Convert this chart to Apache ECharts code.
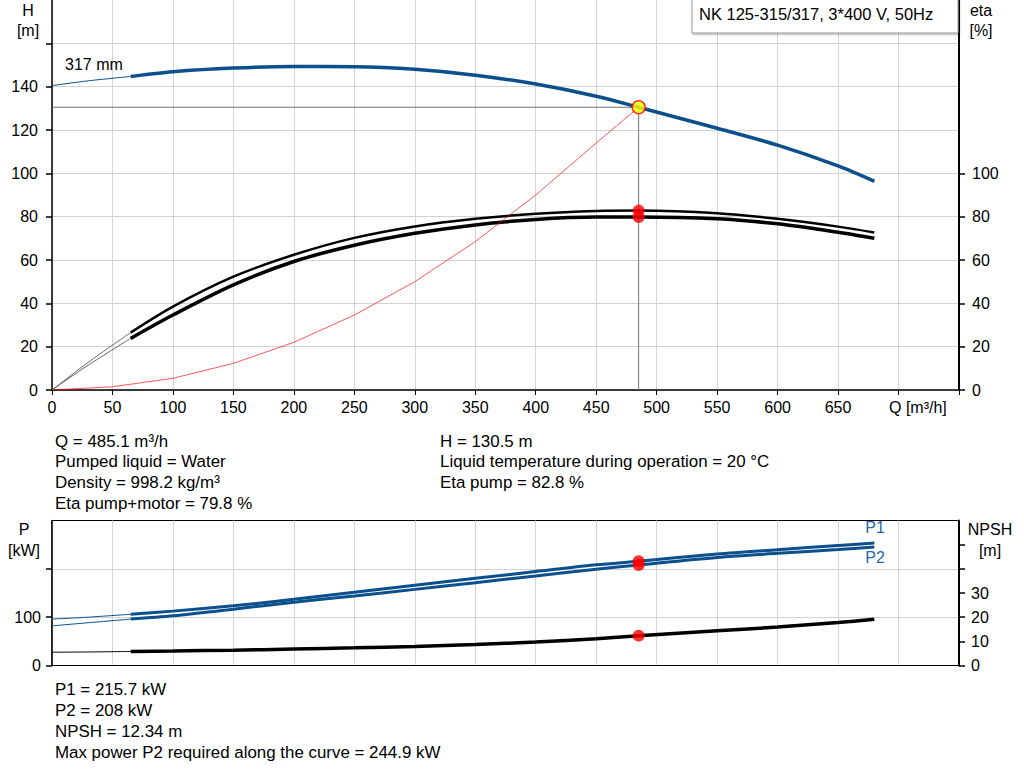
<!DOCTYPE html>
<html>
<head>
<meta charset="utf-8">
<script src="https://cdn.jsdelivr.net/npm/echarts@6/dist/echarts.min.js"></script>
<style>
html,body{margin:0;padding:0;background:#fff;}
#chart{width:1024px;height:781px;}
</style>
</head>
<body>
<div id="chart"></div>
<script>
// ---------- data ----------
const qCurve = [65,100,150,200,250,300,350,400,450,485.1,550,600,650,680];
const hHead = [144.7,146.9,148.6,149.3,149.2,148,145.3,141.2,135.6,130.5,120.8,113,103.4,96.3];
const etaPump = [26.5,38.5,52.3,62.4,70.2,75.5,79.0,81.3,82.6,82.8,81.6,79,75.4,72.7];
const etaPumpMotor = [23.8,34.6,48.5,59.3,66.8,72.3,76.2,78.7,79.8,79.8,79,76.7,72.8,70];
const p1 = [106,112.5,123.5,137,151.5,166,180.3,194.4,208.3,215.7,230.6,239.6,248.2,253.5];
const p2 = [96,102.8,116.5,131,144,157.5,171.3,185.2,199.2,208,223.5,232,239.8,245];
const npsh = [5.8,6.0,6.35,6.8,7.3,7.9,8.7,9.7,11.1,12.34,14.4,15.9,17.8,19.1];

const qLow = [0,30,65];
const hLow = [140.5,142.7,144.7];
const etaPumpLow = [0,12.8,26.5];
const etaPumpMotorLow = [0,11.5,23.8];
const p1Low = [96,100,106];
const p2Low = [82,88.5,96];
const npshLow = [5.5,5.6,5.8];

const qSystem = [0,50,100,150,200,250,300,350,400,450,485.1];
const hSystem = [0,1.5,5.4,12.3,22,34.6,50,68.5,90,114,130.5];

const dutyQ = 485.1, dutyH = 130.5, dutyEtaPump = 82.8, dutyEtaPumpMotor = 79.8;
const dutyP1 = 215.7, dutyP2 = 208, dutyNPSH = 12.34;

const qTicks = [0,50,100,150,200,250,300,350,400,450,500,550,600,650];
const hTicks = [0,20,40,60,80,100,120,140];
const hTickMarks = [0,20,40,60,80,100,120,140,160];
const etaTicks = [0,20,40,60,80,100];
const pTicks = [0,100];
const pTickMarks = [0,100,200];
const npshTicks = [0,10,20,30];
const npshTickMarks = [0,10,20,30,40,50];

const infoLeft = ['Q = 485.1 m³/h','Pumped liquid = Water','Density = 998.2 kg/m³','Eta pump+motor = 79.8 %'];
const infoRight = ['H = 130.5 m','Liquid temperature during operation = 20 °C','Eta pump = 82.8 %'];
const infoBottom = ['P1 = 215.7 kW','P2 = 208 kW','NPSH = 12.34 m','Max power P2 required along the curve = 244.9 kW'];

// ---------- helpers ----------
const FONT = '"Liberation Sans", Arial, sans-serif';
const zip = (xs, ys) => xs.map((x, i) => [x, ys[i]]);
const BLUE = '#0b4f8c';
const GRID = '#d3d3d3';

function txt(x, y, s, opts) {
  opts = opts || {};
  return {
    type: 'text', x: x, y: y, z: 50,
    style: {
      text: s, fill: opts.fill || '#000',
      font: (opts.size || 16) + 'px ' + FONT,
      align: opts.align || 'left', verticalAlign: 'middle'
    }
  };
}
function line(name, data, xi, yi, color, width, smooth, z) {
  return {
    name: name, type: 'line', xAxisIndex: xi, yAxisIndex: yi, data: data,
    showSymbol: false, symbol: 'none', smooth: smooth, z: z || 3, silent: true,
    lineStyle: { color: color, width: width }
  };
}
function dots(name, data, xi, yi, size, color, border) {
  return {
    name: name, type: 'scatter', xAxisIndex: xi, yAxisIndex: yi, data: data,
    symbolSize: size, z: 10, silent: true,
    itemStyle: { color: color, borderColor: border || color, borderWidth: border ? 1.5 : 0 }
  };
}

const graphics = [
  { type: 'rect', z: 60, shape: { x: 692, y: -1, width: 266, height: 34 },
    style: { fill: '#fff', stroke: '#999', lineWidth: 1, shadowColor: 'rgba(0,0,0,0.35)', shadowOffsetX: 1, shadowOffsetY: 1, shadowBlur: 2 } },
  Object.assign(txt(699, 14, 'NK 125-315/317, 3*400 V, 50Hz', { size: 16.5 }), { z: 61 }),
  txt(28, 10, 'H', { align: 'center' }),
  txt(28, 30, '[m]', { align: 'center' }),
  txt(981, 10, 'eta', { align: 'center' }),
  txt(981, 30, '[%]', { align: 'center' }),
  txt(24, 529, 'P', { align: 'center' }),
  txt(24, 550, '[kW]', { align: 'center' }),
  txt(990, 529, 'NPSH', { align: 'center' }),
  txt(990, 550, '[m]', { align: 'center' }),
  txt(889, 407, 'Q [m³/h]'),
  txt(65, 64, '317 mm'),
  txt(875, 527, 'P1', { align: 'center', fill: '#2566a8' }),
  txt(875, 557, 'P2', { align: 'center', fill: '#2566a8' })
];
infoLeft.forEach((s, i) => graphics.push(txt(55, 441 + i * 20.7, s, { size: 16.9 })));
infoRight.forEach((s, i) => graphics.push(txt(440, 441 + i * 20.7, s, { size: 16.9 })));
infoBottom.forEach((s, i) => graphics.push(txt(55, 689 + i * 21, s, { size: 16.9 })));

const axisLab = { color: '#000', fontSize: 16, fontFamily: FONT };

const option = {
  animation: false,
  backgroundColor: '#fff',
  grid: [
    { left: 52, right: 65, top: 0, bottom: 391, containLabel: false },
    { left: 52, right: 65, top: 520.5, bottom: 115.5, containLabel: false, show: true, borderColor: '#000', borderWidth: 1, backgroundColor: 'transparent' }
  ],
  xAxis: [
    { type: 'value', gridIndex: 0, min: 0, max: 750, interval: 50,
      axisLine: { show: true, onZero: false, lineStyle: { color: '#000', width: 1.5 } },
      axisTick: { show: true, length: 5, lineStyle: { color: '#000', width: 1 } },
      axisLabel: Object.assign({ margin: 9, customValues: qTicks }, axisLab),
      splitLine: { show: true, lineStyle: { color: GRID, width: 1 } } },
    { type: 'value', gridIndex: 1, min: 0, max: 750, interval: 50,
      axisLine: { show: true, onZero: false, lineStyle: { color: '#000', width: 1 } },
      axisTick: { show: false }, axisLabel: { show: false },
      splitLine: { show: true, lineStyle: { color: GRID, width: 1 } } }
  ],
  yAxis: [
    { type: 'value', gridIndex: 0, position: 'left', min: 0, max: 180, interval: 20,
      axisLine: { show: true, onZero: false, lineStyle: { color: '#000', width: 1.5 } },
      axisTick: { show: true, length: 6, customValues: hTickMarks, lineStyle: { color: '#000', width: 1.5 } },
      axisLabel: Object.assign({ margin: 14, customValues: hTicks }, axisLab),
      splitLine: { show: true, lineStyle: { color: GRID, width: 1 } } },
    { type: 'value', gridIndex: 0, position: 'right', min: 0, max: 180, interval: 20,
      axisLine: { show: true, onZero: false, lineStyle: { color: '#000', width: 2 } },
      axisTick: { show: true, length: 6, customValues: etaTicks, lineStyle: { color: '#000', width: 1.5 } },
      axisLabel: Object.assign({ margin: 13, customValues: etaTicks }, axisLab),
      splitLine: { show: false } },
    { type: 'value', gridIndex: 1, position: 'left', min: 0, max: 300, interval: 100,
      axisLine: { show: true, onZero: false, lineStyle: { color: '#000', width: 1.5 } },
      axisTick: { show: true, length: 6, customValues: pTickMarks, lineStyle: { color: '#000', width: 1.5 } },
      axisLabel: Object.assign({ margin: 11, customValues: pTicks }, axisLab),
      splitLine: { show: true, lineStyle: { color: GRID, width: 1 } } },
    { type: 'value', gridIndex: 1, position: 'right', min: 0, max: 60, interval: 10,
      axisLine: { show: true, onZero: false, lineStyle: { color: '#000', width: 2 } },
      axisTick: { show: true, length: 6, customValues: npshTickMarks, lineStyle: { color: '#000', width: 1.5 } },
      axisLabel: Object.assign({ margin: 12, customValues: npshTicks }, axisLab),
      splitLine: { show: false } }
  ],
  series: [
    line('H low', zip(qLow, hLow), 0, 0, BLUE, 1, 0.3),
    line('H', zip(qCurve, hHead), 0, 0, BLUE, 3.5, 0.3, 4),
    line('eta pump low', zip(qLow, etaPumpLow), 0, 1, '#666', 1, 0.3),
    line('eta pump', zip(qCurve, etaPump), 0, 1, '#000', 2.5, 0.3, 4),
    line('eta pump+motor low', zip(qLow, etaPumpMotorLow), 0, 1, '#666', 1, 0.3),
    line('eta pump+motor', zip(qCurve, etaPumpMotor), 0, 1, '#000', 3.5, 0.3, 4),
    line('system', zip(qSystem, hSystem), 0, 0, 'rgba(255,0,0,0.65)', 1, false, 5),
    line('duty', [[0, dutyH], [dutyQ, dutyH], [dutyQ, 0]], 0, 0, '#707070', 1, false, 2),
    dots('eta dots', [[dutyQ, dutyEtaPump], [dutyQ, dutyEtaPumpMotor]], 0, 1, 12, '#ff0000'),
    dots('duty point', [[dutyQ, dutyH]], 0, 0, 13, '#ffff00', '#ff0000'),
    line('P1 low', zip(qLow, p1Low), 1, 2, BLUE, 1, 0.3),
    line('P1', zip(qCurve, p1), 1, 2, BLUE, 3, 0.3, 4),
    line('P2 low', zip(qLow, p2Low), 1, 2, BLUE, 1, 0.3),
    line('P2', zip(qCurve, p2), 1, 2, BLUE, 3, 0.3, 4),
    line('NPSH low', zip(qLow, npshLow), 1, 3, '#000', 1, 0.3),
    line('NPSH', zip(qCurve, npsh), 1, 3, '#000', 3.5, 0.3, 4),
    dots('P dots', [[dutyQ, dutyP1], [dutyQ, dutyP2]], 1, 2, 12, '#ff0000'),
    dots('NPSH dot', [[dutyQ, dutyNPSH]], 1, 3, 12, '#ff0000')
  ],
  graphic: graphics
};

const chart = echarts.init(document.getElementById('chart'), null, { renderer: 'svg', width: 1024, height: 781 });
chart.setOption(option);
</script>
</body>
</html>
